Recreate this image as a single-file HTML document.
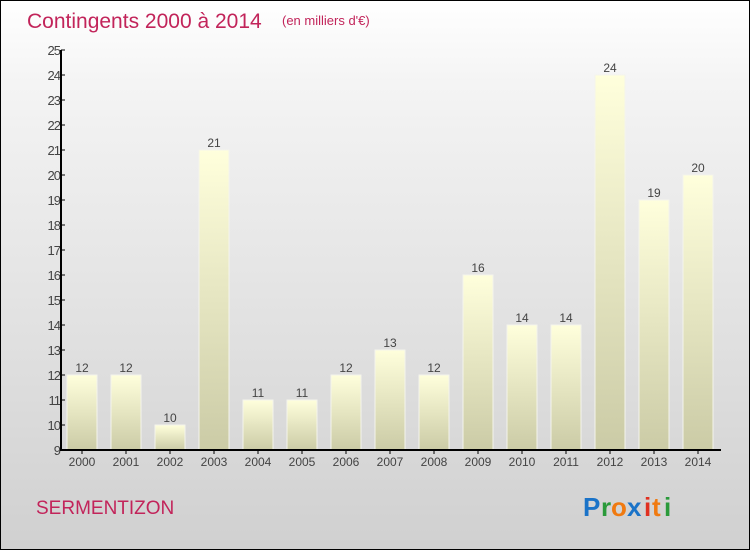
<!DOCTYPE html>
<html><head><meta charset="utf-8"><style>
body{margin:0}
#c{width:748px;height:548px;border:1px solid #000;background:linear-gradient(#fff,#f4f4f4 15%,#d0d0d0);position:relative;font-family:"Liberation Sans",sans-serif;overflow:hidden}
</style></head><body>
<div id="c">
<svg width="748" height="548" id="svg">
<defs><linearGradient id="g" x1="0" y1="0" x2="0" y2="1"><stop offset="0" stop-color="#ffffdc"/><stop offset="1" stop-color="#cbcba6"/></linearGradient></defs>
<text x="26" y="27" font-size="21" fill="#c2245a">Contingents 2000 à 2014</text>
<text x="281" y="24" font-size="13" fill="#c2245a">(en milliers d'€)</text>
<text x="35" y="513" font-size="19" fill="#c2245a">SERMENTIZON</text>
<g font-size="26" font-weight="bold" font-family="'Liberation Sans',sans-serif"><text x="582" y="515" fill="#1a73c8">P</text><text x="600" y="515" fill="#2a9a3a">r</text><text x="610" y="515" fill="#f07a10">o</text><text x="626" y="515" fill="#1a73c8">x</text><text x="643" y="515" fill="#e03020">i</text><text x="651" y="515" fill="#f07a10">t</text><text x="663" y="515" fill="#2a9a3a">i</text></g>
<g id="plot"></g>
</svg></div>
<script>
const categories=["2000","2001","2002","2003","2004","2005","2006","2007","2008","2009","2010","2011","2012","2013","2014"];
const values=[12,12,10,21,11,11,12,13,12,16,14,14,24,19,20];
const yTicks=[9,10,11,12,13,14,15,16,17,18,19,20,21,22,23,24,25];
const NS="http://www.w3.org/2000/svg";
const g=document.getElementById('plot');
const yMin=9,yMax=25,y0=449,y1=49,xL=60;
const y=v=>y0-(v-yMin)/(yMax-yMin)*(y0-y1);
const x=i=>81+i*44;
function mk(t,a,txt){const e=document.createElementNS(NS,t);for(const k in a)e.setAttribute(k,a[k]);if(txt!=null)e.textContent=txt;g.appendChild(e);return e;}
yTicks.forEach(v=>{
 const l=mk('line',{x1:xL,x2:xL+4,y1:y(v),y2:y(v),stroke:'#000'});
 
 
 const t=mk('text',{x:xL-1,y:y(v)+5,'text-anchor':'end','font-size':13,fill:'#444','letter-spacing':'-1'},v);
 
 
});
values.forEach((v,i)=>{
 const r=mk('rect',{x:x(i)-15,y:y(v),width:30,height:y0-y(v),fill:'url(#g)',stroke:'#f4f4ec','stroke-width':1});
 
 
 const t=mk('text',{x:x(i),y:y(v)-3,'text-anchor':'middle','font-size':12,fill:'#444'},v);
 
 
 const tk=mk('line',{x1:x(i),x2:x(i),y1:y0,y2:y0+4,stroke:'#000'});
 
 
 const c=mk('text',{x:x(i),y:y0+16,'text-anchor':'middle','font-size':12,fill:'#444'},categories[i]);
 
 
});
const ya=mk('line',{x1:xL,x2:xL,y1:y1,y2:y0+1,stroke:'#000','stroke-width':2});


const xa=mk('line',{x1:xL,x2:720,y1:y0,y2:y0,stroke:'#000','stroke-width':2});


</script>
</body></html>
